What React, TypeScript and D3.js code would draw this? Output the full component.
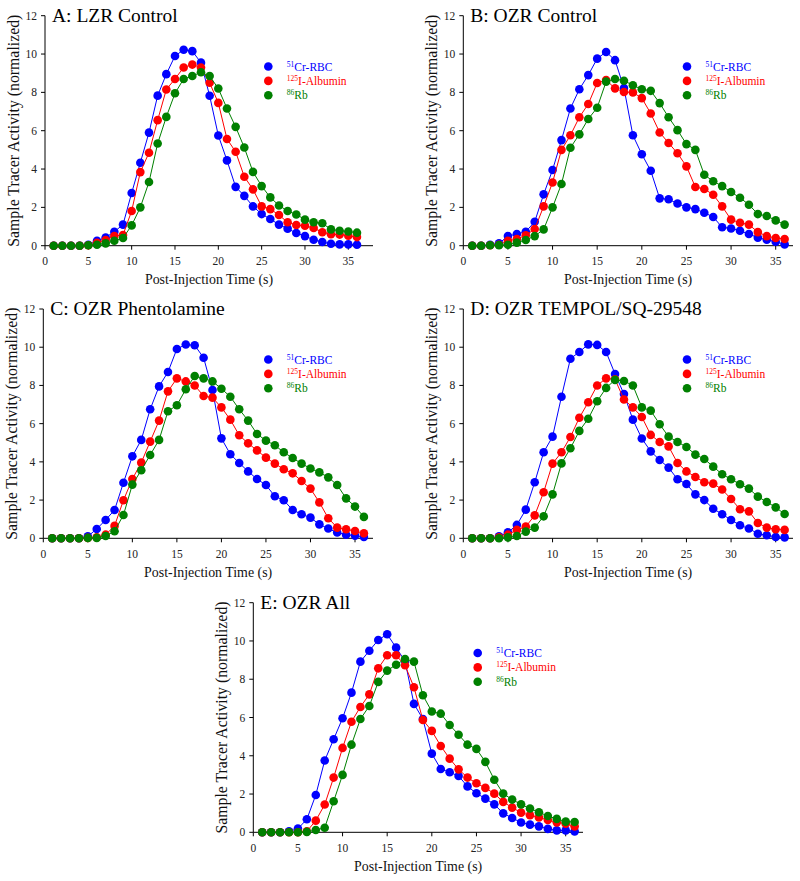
import * as d3 from "d3";

// sample times (s)
const times = [1, 2, 3, 4, 5, 6, 7, 8, 9, 10, 11, 12, 13, 14, 15, 16, 17, 18, 19, 20, 21, 22, 23, 24, 25, 26, 27, 28, 29, 30, 31, 32, 33, 34, 35, 36];
const xTicks = [0, 5, 10, 15, 20, 25, 30, 35];
const yTicks = [0, 2, 4, 6, 8, 10, 12];

const tracerSup = ["51", "125", "86"];
const tracerName = ["Cr-RBC", "I-Albumin", "Rb"];
const tracerColor = ["#0000FF", "#FF0000", "#008000"];

const panelTitles = ["A: LZR Control", "B: OZR Control", "C: OZR Phentolamine", "D: OZR TEMPOL/SQ-29548", "E: OZR All"];

// A: LZR Control
const rbcA = [0, 0, 0, 0, 0.05, 0.25, 0.43, 0.73, 1.1, 2.75, 4.33, 5.9, 7.83, 8.95, 9.9, 10.22, 10.15, 9.55, 7.82, 5.75, 4.45, 3.07, 2.6, 2.05, 1.65, 1.39, 1.1, 0.89, 0.66, 0.5, 0.31, 0.19, 0.1, 0.07, 0.07, 0.05];
const albA = [0, 0, 0, 0, 0.02, 0.15, 0.3, 0.5, 0.56, 1.81, 3.84, 4.85, 6.55, 8.15, 8.7, 9.3, 9.45, 9.3, 8.5, 7.45, 5.57, 4.9, 3.6, 2.94, 2.05, 1.91, 1.6, 1.22, 1.08, 1.04, 0.92, 0.7, 0.6, 0.58, 0.52, 0.45];
const rbA = [0, 0, 0, 0, 0.02, 0.05, 0.12, 0.26, 0.4, 1.06, 2.0, 3.32, 5.33, 6.72, 7.95, 8.7, 8.85, 9.05, 8.85, 8.2, 7.16, 6.2, 5.12, 3.85, 3.11, 2.52, 2.1, 1.81, 1.63, 1.36, 1.22, 1.17, 0.85, 0.78, 0.74, 0.68];

// B: OZR Control
const rbcB = [0, 0, 0.05, 0.12, 0.5, 0.61, 0.73, 1.25, 2.68, 3.95, 5.51, 7.16, 8.16, 8.9, 9.76, 10.11, 9.68, 8.23, 5.76, 4.77, 3.91, 2.47, 2.42, 2.2, 2.0, 1.91, 1.72, 1.5, 0.96, 0.9, 0.78, 0.61, 0.42, 0.31, 0.21, 0.07];
const albB = [0, 0, 0.02, 0.05, 0.25, 0.35, 0.54, 0.87, 2.05, 3.3, 5.0, 5.76, 6.7, 7.39, 8.49, 8.64, 8.21, 8.02, 8.0, 7.7, 6.9, 5.91, 5.36, 4.82, 4.14, 3.06, 2.96, 2.66, 2.05, 1.36, 1.2, 1.1, 0.71, 0.5, 0.4, 0.35];
const rbB = [0, 0, 0.02, 0.03, 0.05, 0.16, 0.3, 0.5, 0.85, 2.0, 3.22, 5.11, 5.81, 6.61, 7.2, 8.56, 8.7, 8.61, 8.37, 8.16, 8.08, 7.44, 6.7, 6.03, 5.3, 5.0, 3.7, 3.36, 3.11, 2.8, 2.5, 2.14, 1.65, 1.55, 1.32, 1.1];

// C: OZR Phentolamine
const rbcC = [0, 0, 0, 0, 0.1, 0.49, 0.96, 1.48, 2.91, 4.29, 5.15, 6.75, 7.95, 8.7, 9.91, 10.14, 10.1, 9.45, 7.76, 5.23, 4.4, 3.94, 3.5, 3.1, 2.79, 2.2, 1.99, 1.48, 1.26, 1.08, 0.73, 0.51, 0.3, 0.19, 0.14, 0.07];
const albC = [0, 0, 0, 0, 0.02, 0.05, 0.19, 0.65, 1.99, 3.1, 3.96, 5.06, 6.16, 7.69, 8.37, 8.21, 8.0, 7.45, 7.36, 6.85, 6.21, 5.39, 4.97, 4.6, 4.22, 3.91, 3.61, 3.4, 3.0, 2.6, 1.88, 1.05, 0.56, 0.47, 0.38, 0.26];
const rbC = [0, 0, 0, 0, 0.02, 0.02, 0.12, 0.37, 1.22, 2.81, 3.56, 4.36, 5.15, 6.65, 6.96, 7.8, 8.49, 8.37, 8.21, 7.83, 7.41, 6.75, 6.16, 5.46, 5.11, 4.87, 4.5, 4.2, 3.91, 3.65, 3.45, 3.19, 2.79, 2.09, 1.66, 1.12];

// D: OZR TEMPOL/SQ-29548
const rbcD = [0, 0, 0, 0.1, 0.31, 0.7, 1.5, 2.93, 4.5, 5.32, 7.41, 9.4, 9.75, 10.15, 10.12, 9.75, 8.6, 7.55, 6.21, 5.22, 4.55, 4.1, 3.7, 3.09, 2.84, 2.3, 2.0, 1.55, 1.26, 0.96, 0.68, 0.51, 0.24, 0.16, 0.07, 0.05];
const albD = [0, 0, 0, 0.05, 0.19, 0.44, 0.61, 1.2, 2.41, 3.91, 4.5, 5.3, 6.31, 7.12, 8.0, 8.37, 8.32, 7.26, 6.85, 6.35, 5.41, 5.04, 4.81, 3.94, 3.5, 3.21, 2.93, 2.86, 2.55, 2.06, 1.52, 1.41, 0.8, 0.56, 0.47, 0.44];
const rbD = [0, 0, 0, 0, 0.05, 0.12, 0.35, 0.56, 1.15, 2.3, 3.92, 4.71, 5.62, 6.26, 7.17, 7.87, 8.29, 8.23, 8.0, 6.85, 6.68, 5.97, 5.32, 5.04, 4.78, 4.38, 4.15, 3.75, 3.35, 3.09, 2.83, 2.6, 2.18, 1.9, 1.62, 1.27];

// E: OZR All
const rbcE = [0, 0, 0, 0.05, 0.19, 0.68, 1.95, 3.75, 4.86, 5.96, 7.3, 8.92, 9.49, 10.05, 10.35, 9.65, 8.95, 6.71, 5.92, 4.11, 3.31, 3.14, 2.94, 2.4, 2.04, 1.76, 1.46, 0.99, 0.75, 0.51, 0.4, 0.31, 0.18, 0.1, 0.1, 0.05];
const albE = [0, 0, 0, 0, 0, 0.05, 0.61, 1.45, 2.86, 4.41, 5.78, 6.55, 7.21, 8.57, 9.25, 9.25, 8.73, 7.58, 5.87, 5.3, 4.51, 3.85, 3.29, 2.86, 2.56, 2.32, 2.02, 1.59, 1.29, 1.03, 0.89, 0.78, 0.64, 0.52, 0.45, 0.31];
const rbE = [0, 0, 0, 0, 0, 0.02, 0.12, 0.24, 1.62, 3.0, 4.58, 5.92, 6.6, 7.86, 8.45, 8.76, 9.06, 8.92, 7.16, 6.31, 6.2, 5.61, 5.1, 4.58, 4.36, 3.68, 2.75, 2.02, 1.71, 1.46, 1.24, 1.05, 0.85, 0.7, 0.56, 0.54];

// panel frames (page pixels)
const panels = [
  { title: panelTitles[0], series: [rbcA, albA, rbA], left: 45, x35: 348.3, axisEnd: 373, top: 15.7, bottom: 245.7, legX: 268.3, legY: 66.5 },
  { title: panelTitles[1], series: [rbcB, albB, rbB], left: 463.3, x35: 775.7, axisEnd: 793, top: 15.7, bottom: 245.7, legX: 687, legY: 66.5 },
  { title: panelTitles[2], series: [rbcC, albC, rbC], left: 43.3, x35: 355, axisEnd: 373, top: 309, bottom: 538.3, legX: 268.3, legY: 359.5 },
  { title: panelTitles[3], series: [rbcD, albD, rbD], left: 463.3, x35: 775.7, axisEnd: 793, top: 309, bottom: 538.3, legX: 687, legY: 359.5 },
  { title: panelTitles[4], series: [rbcE, albE, rbE], left: 253.3, x35: 565.7, axisEnd: 583, top: 602.7, bottom: 832.3, legX: 477.7, legY: 653 },
];

const font = "'Liberation Serif', 'Times New Roman', serif";

function Panel({ p }: { p: (typeof panels)[number] }) {
  const x = d3.scaleLinear().domain([0, 35]).range([p.left, p.x35]);
  const y = d3.scaleLinear().domain([0, 12]).range([p.bottom, p.top]);
  const line = d3
    .line<number>()
    .x((_, i) => x(times[i]))
    .y((d) => y(d));

  return (
    <g fontFamily={font}>
      {/* axes */}
      <line x1={p.left} x2={p.axisEnd} y1={p.bottom} y2={p.bottom} stroke="#000" />
      <line x1={p.left} x2={p.left} y1={p.bottom} y2={p.top} stroke="#000" />
      {xTicks.map((t) => (
        <g key={"x" + t}>
          <line x1={x(t)} x2={x(t)} y1={p.bottom} y2={p.bottom + 4} stroke="#000" />
          <text x={x(t)} y={p.bottom + 19.5} fontSize={11.5} textAnchor="middle" fill="#222">
            {t}
          </text>
        </g>
      ))}
      {yTicks.map((t) => (
        <g key={"y" + t}>
          <line x1={p.left - 4} x2={p.left} y1={y(t)} y2={y(t)} stroke="#000" />
          <text x={p.left - 8} y={y(t)} dy="0.35em" fontSize={11.5} textAnchor="end" fill="#222">
            {t}
          </text>
        </g>
      ))}
      <text x={(p.left + p.axisEnd) / 2} y={p.bottom + 38.5} fontSize={13.9} textAnchor="middle" fill="#111">
        Post-Injection Time (s)
      </text>
      <text
        transform={`translate(${p.left - 32},${(p.top + p.bottom) / 2}) rotate(-90)`}
        fontSize={15.8}
        textAnchor="middle"
        dy="0.35em"
        fill="#111"
      >
        Sample Tracer Activity (normalized)
      </text>
      <text x={p.left + 7} y={p.top + 5.8} fontSize={19.5} fill="#000">
        {p.title}
      </text>

      {/* series */}
      {p.series.map((s, k) => (
        <g key={"s" + k}>
          <path d={line(s) ?? ""} fill="none" stroke={tracerColor[k]} strokeWidth={1} />
          {s.map((v, i) => (
            <circle key={i} cx={x(times[i])} cy={y(v)} r={4.3} fill={tracerColor[k]} />
          ))}
        </g>
      ))}

      {/* legend */}
      {tracerName.map((n, k) => (
        <g key={"l" + k}>
          <circle cx={p.legX} cy={p.legY + k * 14.4} r={4.3} fill={tracerColor[k]} />
          <text x={p.legX + 18.5} y={p.legY + k * 14.4 + 4} fontSize={11.5} fill={tracerColor[k]}>
            <tspan fontSize={7.5} dy={-4}>
              {tracerSup[k]}
            </tspan>
            <tspan dy={4}>{n}</tspan>
          </text>
        </g>
      ))}
    </g>
  );
}

export default function App() {
  return (
    <svg width={800} height={881} style={{ position: "absolute", left: 0, top: 0, background: "#fff" }}>
      <rect width={800} height={881} fill="#fff" />
      {panels.map((p, i) => (
        <Panel key={i} p={p} />
      ))}
    </svg>
  );
}
